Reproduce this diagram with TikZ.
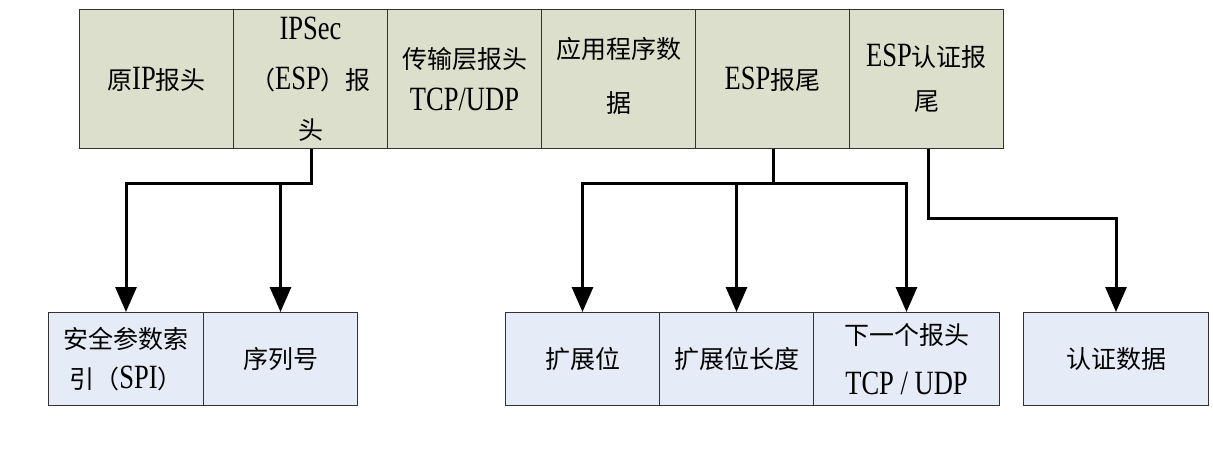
\documentclass[tikz,border=0pt]{standalone}
\usepackage{fontspec}
\setmainfont{Liberation Serif}[FakeStretch=0.78,Scale=1.36]
\newfontfamily\cjk{Noto Sans CJK SC}
\usetikzlibrary{arrows.meta}
\newcommand\zh[1]{{\cjk #1}}
\definecolor{topfill}{RGB}{220,223,203}
\definecolor{botfill}{RGB}{230,236,247}
\begin{document}
\begin{tikzpicture}[x=1pt,y=-1pt,
  cell/.style={draw=black!80, line width=1pt, inner sep=0pt, anchor=north west, align=center},
  topcell/.style={cell, fill=topfill, minimum width=154pt, minimum height=139pt, font=\fontsize{25}{44}\selectfont},
  botcell/.style={cell, fill=botfill, minimum height=93pt, font=\fontsize{25}{44}\selectfont},
  conn/.style={line width=3pt, line join=miter, -{Triangle[width=21pt,length=25pt]}}]
\useasboundingbox (0,0) rectangle (1213,456);
% top row
\node[topcell] (c1) at (79,9) {\zh{原}IP\zh{报头}};
\node[topcell, font=\fontsize{25}{50}\selectfont] (c2) at (233,9) {IPSec\\\zh{（}ESP\zh{）报}\\\zh{头}};
\node[topcell, font=\fontsize{25}{42}\selectfont] (c3) at (387,9) {\raisebox{-5pt}{\zh{传输层报头}}\\\raisebox{-5pt}{TCP/UDP}};
\node[topcell, font=\fontsize{25}{54}\selectfont] (c4) at (541,9) {\raisebox{8pt}{\zh{应用程序数}}\\\raisebox{8pt}{\zh{据}}};
\node[topcell] (c5) at (695,9) {\raisebox{-4pt}{ESP\zh{报尾}}};
\node[topcell] (c6) at (849,9) {\raisebox{3pt}{ESP\zh{认证报}}\\\raisebox{3pt}{\zh{尾}}};
% bottom boxes
\node[botcell, minimum width=155pt, font=\fontsize{25}{40}\selectfont] (s1) at (48,312) {\zh{安全参数索}\\\zh{引（}SPI\zh{）}};
\node[botcell, minimum width=154pt] (s2) at (203,312) {\zh{序列号}};
\node[botcell, minimum width=154pt] (e1) at (505,312) {\zh{扩展位}};
\node[botcell, minimum width=154pt] (e2) at (659,312) {\zh{扩展位长度}};
\node[botcell, minimum width=186pt, font=\fontsize{25}{50}\selectfont] (e3) at (813,312) {\zh{下一个报头}\\TCP / UDP};
\node[botcell, minimum width=185pt] (ad) at (1023,312) {\zh{认证数据}};
% connectors
\coordinate (j1) at ([xshift=1pt]c2.south |- 0,183);
\draw[conn] ([xshift=1pt]c2.south) -- (j1) -| (s1.north);
\draw[conn] (j1 -| s2.north) -- (s2.north);
\coordinate (j2) at ([xshift=1pt]c5.south |- 0,183);
\draw[conn] ([xshift=1pt]c5.south) -- (j2) -| (e1.north);
\draw[conn] (j2) -| (e3.north);
\draw[conn] (j2 -| e2.north) -- (e2.north);
\coordinate (j3) at ([xshift=2pt]c6.south |- 0,218);
\draw[conn] ([xshift=2pt]c6.south) -- (j3) -| (ad.north);
\end{tikzpicture}
\end{document}
